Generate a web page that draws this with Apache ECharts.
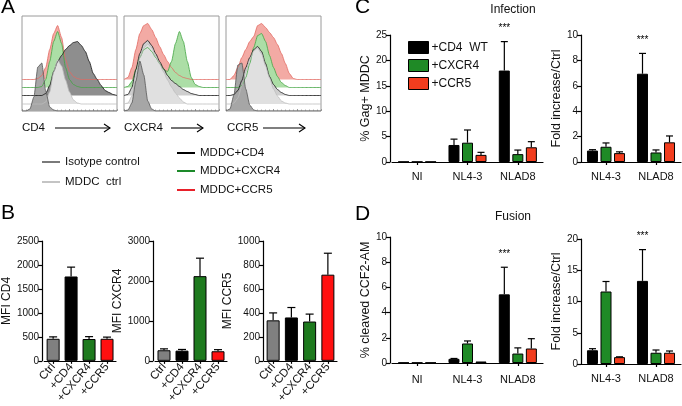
<!DOCTYPE html>
<html><head><meta charset="utf-8">
<script src="https://cdn.jsdelivr.net/npm/echarts@6/dist/echarts.min.js"></script>
<style>html,body{margin:0;padding:0;background:#fff}#c{width:682px;height:406px}</style>
</head><body><div id="c"></div>
<script>
const FONT = '"Liberation Sans", Arial, Helvetica, sans-serif';

// ---------- Panel A : flow cytometry histograms (channel bins, relative counts) ----------
const histBins = [0,4,8,12,16,20,24,28,32,36,40,44,48,52,56,60,64,68,72,76,80,84,88,92,96];
// CD4 staining
const cd4Iso   = [0,0,2,14,44,48,20,4,1,0,0,0,0,0,0,0,0,0,0,0,0,0,0,0,0];
const cd4Ctrl  = [0,0,0,0,0,0,2,12,32,44,38,24,12,4,1,0,0,0,0,0,0,0,0,0,0];
const cd4Cd4   = [0,0,0,0,0,0,2,10,24,34,40,46,50,53,54,50,44,34,22,16,10,5,3,1,0];
const cd4Cxcr4 = [0,0,0,0,0,1,8,26,46,56,44,20,8,3,1,0,0,0,0,0,0,0,0,0,0];
const cd4Ccr5  = [0,0,0,0,1,4,12,30,46,54,42,20,8,3,1,0,0,0,0,0,0,0,0,0,0];
// CXCR4 staining
const cxIso    = [0,1,8,30,50,36,10,2,0,0,0,0,0,0,0,0,0,0,0,0,0,0,0,0,0];
const cxCtrl   = [0,1,8,28,46,56,60,56,48,40,32,24,17,11,6,2,0,0,0,0,0,0,0,0,0];
const cxCd4    = [0,1,8,26,42,52,55,50,42,34,27,20,15,12,9,6,4,2,1,0,0,0,0,0,0];
const cxCxcr4  = [0,1,6,18,30,38,40,36,30,24,18,16,26,44,56,46,26,10,3,1,0,0,0,0,0];
const cxCcr5   = [0,2,12,30,46,54,56,50,42,33,25,18,12,7,4,2,1,0,0,0,0,0,0,0,0];
// CCR5 staining
const ccIso    = [0,2,16,46,48,22,6,1,0,0,0,0,0,0,0,0,0,0,0,0,0,0,0,0,0];
const ccCtrl   = [0,0,1,6,18,32,44,53,56,50,38,26,15,8,3,1,0,0,0,0,0,0,0,0,0];
const ccCd4    = [0,0,1,5,15,28,38,46,49,44,32,19,11,6,3,1,0,0,0,0,0,0,0,0,0];
const ccCxcr4  = [0,0,0,0,2,10,24,40,52,54,46,32,20,11,5,2,0,0,0,0,0,0,0,0,0];
const ccCcr5   = [0,0,4,12,22,30,38,43,54,56,52,47,42,35,26,16,6,1,0,0,0,0,0,0,0];
const histMarkers = ['CD4','CXCR4','CCR5'];

// ---------- Panel B : MFI ----------
const bCats = ['Ctrl','+CD4','+CXCR4','+CCR5'];
const mfiCD4     = [460,1760,455,460];
const mfiCD4Err  = [500,1955,505,495];
const mfiCXCR4   = [265,255,2120,240];
const mfiCXCR4Err= [300,285,2570,280];
const mfiCCR5    = [338,362,328,719];
const mfiCCR5Err = [400,445,390,898];

// ---------- Panel C / D ----------
const cdCats3 = ['NI','NL4-3','NLAD8'];
const cdCats2 = ['NL4-3','NLAD8'];
const seriesNames = ['+CD4  WT','+CXCR4','+CCR5'];
// Infection, % Gag+ MDDC
const infCd4 = [0.05,3.35,18.0],   infCd4Err = [null,4.5,23.7];
const infCxcr4 = [0.05,3.8,1.55],  infCxcr4Err = [null,6.3,2.35];
const infCcr5 = [0.05,1.4,2.9],    infCcr5Err = [null,1.9,4.0];
const infSig = [null,null,'***'];
// Infection, fold increase
const infFoldCd4 = [0.9,6.95],     infFoldCd4Err = [0.97,8.55];
const infFoldCxcr4 = [1.2,0.75],   infFoldCxcr4Err = [1.5,0.95];
const infFoldCcr5 = [0.7,1.55],    infFoldCcr5Err = [0.8,2.05];
const infFoldSig = [null,'***'];
// Fusion, % cleaved CCF2-AM
const fusCd4 = [0.03,0.33,5.45],   fusCd4Err = [null,0.36,7.6];
const fusCxcr4 = [0.03,1.55,0.75], fusCxcr4Err = [null,1.75,1.2];
const fusCcr5 = [0.03,0.12,1.15],  fusCcr5Err = [null,null,1.93];
const fusSig = [null,null,'***'];
// Fusion, fold increase
const fusFoldCd4 = [2.2,13.3],     fusFoldCd4Err = [2.45,18.3];
const fusFoldCxcr4 = [11.6,1.8],   fusFoldCxcr4Err = [13.2,2.24];
const fusFoldCcr5 = [1.1,1.8],     fusFoldCcr5Err = [1.15,2.08];
const fusFoldSig = [null,'***'];

// ================= build =================
const grids = [], xAxes = [], yAxes = [], series = [];
const BLACK = '#000', GREEN = '#1f8a26', RED = '#f23d1e';

// ---- A ----
const aLeft = [22,124,226];
const aSets = [
  [cd4Iso,cd4Ctrl,cd4Cd4,cd4Cxcr4,cd4Ccr5],
  [cxIso,cxCtrl,cxCd4,cxCxcr4,cxCcr5],
  [ccIso,ccCtrl,ccCd4,ccCxcr4,ccCcr5]
];
function hist(gi, name, vals, base, line, fill){
  return {type:'line', name, xAxisIndex:gi, yAxisIndex:gi, silent:true, animation:false,
    data: histBins.map((b,i)=>[b, base+vals[i]]), symbol:'none', smooth:0.2, smoothMonotone:'x',
    lineStyle:{color:line,width:0.8}, areaStyle:{color:fill, opacity:1, origin:base}};
}
aSets.forEach((set,k)=>{
  const gi = grids.length;
  grids.push({left:aLeft[k], top:16, width:95, height:95, show:true, borderColor:'#9a9a9a', borderWidth:1, backgroundColor:'#fff'});
  xAxes.push({type:'value', gridIndex:gi, min:0, max:96, interval:24, axisLine:{show:false}, axisLabel:{show:false},
    splitLine:{show:false}, axisTick:{show:true, inside:true, length:2, lineStyle:{color:'#999'}},
    minorTick:{show:true, splitNumber:6, length:1.5, lineStyle:{color:'#aaa'}}});
  yAxes.push({type:'value', gridIndex:gi, min:0, max:95, show:false});
  const [iso,ctrl,cd4,cx,cc] = set;
  series.push(hist(gi,'MDDC+CCR5',cc,31.5,'#e26a62','#f3aaa4'));
  series.push(hist(gi,'MDDC+CXCR4',cx,23.5,'#43a443','#acdea6'));
  series.push(hist(gi,'MDDC+CD4',cd4,15.5,'#111', k===0?'#8e8e8e':'#cfcfcf'));
  series.push(hist(gi,'MDDC ctrl',ctrl,7,'#bdbdbd','#e0e0e0'));
  series.push(hist(gi,'Isotype control',iso,0,'#555','#a6a6a6'));
});

// ---- shared helpers for bar charts ----
function yAxis(gi, max, interval, name, nameGap, offset, fs, nfs){
  return {type:'value', gridIndex:gi, min:0, max, interval, offset,
    axisLine:{show:true, lineStyle:{color:'#000', width:1.2}},
    axisTick:{show:true, length:4, lineStyle:{color:'#000', width:1.2}},
    splitLine:{show:false},
    axisLabel:{fontSize:fs, color:'#111', fontFamily:FONT, margin:3, formatter:v=>String(v)},
    name, nameLocation:'middle', nameGap, nameTextStyle:{fontSize:nfs, fontFamily:FONT, color:'#111'}};
}
function xCat(gi, data, opts){
  return Object.assign({type:'category', gridIndex:gi, data,
    axisLine:{show:true, lineStyle:{color:'#000', width:1.2}},
    axisTick:{show:true, alignWithLabel:true, length:3, lineStyle:{color:'#000', width:1.2}},
    splitLine:{show:false}}, opts);
}
function errBars(gi, vals, errs, dx, cap){
  const data = [];
  vals.forEach((v,i)=>{ if(errs[i]!=null) data.push([i, v, errs[i]]); });
  return {type:'custom', xAxisIndex:gi, yAxisIndex:gi, data, silent:true, animation:false, z:3,
    renderItem(params, api){
      const p0 = api.coord([api.value(0), api.value(1)]);
      const p1 = api.coord([api.value(0), api.value(2)]);
      const x = p0[0]+dx;
      return {type:'group', children:[
        {type:'line', shape:{x1:x,y1:p0[1],x2:x,y2:p1[1]}, style:{stroke:'#000', lineWidth:1.2}},
        {type:'line', shape:{x1:x-cap/2,y1:p1[1],x2:x+cap/2,y2:p1[1]}, style:{stroke:'#000', lineWidth:1.2}}
      ]};
    }};
}
function stars(gi, errs, sig, dx){
  const data = [];
  sig.forEach((s,i)=>{ if(s) data.push([i, errs[i], s]); });
  return {type:'custom', xAxisIndex:gi, yAxisIndex:gi, data, silent:true, animation:false, z:4,
    renderItem(params, api){
      const p = api.coord([api.value(0), api.value(1)]);
      return {type:'text', x:p[0]+dx, y:p[1]-13,
        style:{text:sig[api.value(0)], fill:'#000', font:'10px '+FONT, textAlign:'center', textVerticalAlign:'middle'}};
    }};
}

// ---- B ----
const bColors = ['#808080','#000000','#1e7a1e','#ff1010'];
const bDefs = [
  {left:44, width:72, vals:mfiCD4, errs:mfiCD4Err, max:2500, iv:500, name:'MFI CD4', gap:24, off:2},
  {left:155, width:72, vals:mfiCXCR4, errs:mfiCXCR4Err, max:3000, iv:1000, name:'MFI CXCR4', gap:24, off:2},
  {left:264, width:73, vals:mfiCCR5, errs:mfiCCR5Err, max:1000, iv:200, name:'MFI CCR5', gap:21, off:1}
];
bDefs.forEach(d=>{
  const gi = grids.length;
  grids.push({left:d.left, top:241, width:d.width, height:122});
  xAxes.push(xCat(gi, bCats, {axisLabel:{rotate:50, fontSize:11.5, color:'#111', fontFamily:FONT, margin:4, interval:0}}));
  yAxes.push(yAxis(gi, d.max, d.iv, d.name, d.gap, d.off, 10, 12));
  series.push({type:'bar', xAxisIndex:gi, yAxisIndex:gi, barWidth:13, animation:false,
    data: d.vals.map((v,i)=>({value:v, itemStyle:{color:bColors[i], borderColor:'#000', borderWidth:1}}))});
  series.push(errBars(gi, d.vals, d.errs, 0, 8));
});

// ---- C / D ----
const cdColors = [BLACK, GREEN, RED];
const cdDefs = [
  {left:392, top:35, width:151, height:127, cats:cdCats3, max:25, iv:5, name:'% Gag+ MDDC', gap:12, off:2, lm:9,
    vals:[infCd4,infCxcr4,infCcr5], errs:[infCd4Err,infCxcr4Err,infCcr5Err], sig:infSig},
  {left:581, top:35, width:100, height:127, cats:cdCats2, max:10, iv:2, name:'Fold increase/Ctrl', gap:14, off:0, lm:9,
    vals:[infFoldCd4,infFoldCxcr4,infFoldCcr5], errs:[infFoldCd4Err,infFoldCxcr4Err,infFoldCcr5Err], sig:infFoldSig},
  {left:392, top:237, width:151, height:126, cats:cdCats3, max:10, iv:2, name:'% cleaved CCF2-AM', gap:12, off:2, lm:11,
    vals:[fusCd4,fusCxcr4,fusCcr5], errs:[fusCd4Err,fusCxcr4Err,fusCcr5Err], sig:fusSig},
  {left:581, top:239, width:100, height:125, cats:cdCats2, max:20, iv:5, name:'Fold increase/Ctrl', gap:13, off:0, lm:9,
    vals:[fusFoldCd4,fusFoldCxcr4,fusFoldCcr5], errs:[fusFoldCd4Err,fusFoldCxcr4Err,fusFoldCcr5Err], sig:fusFoldSig}
];
const step = 13.5;
cdDefs.forEach(d=>{
  const gi = grids.length;
  grids.push({left:d.left, top:d.top, width:d.width, height:d.height});
  xAxes.push(xCat(gi, d.cats, {axisLabel:{fontSize:11, color:'#111', fontFamily:FONT, margin:d.lm}}));
  yAxes.push(yAxis(gi, d.max, d.iv, d.name, d.gap, d.off, 10, 12.5));
  d.vals.forEach((vals,k)=>{
    series.push({type:'bar', name:seriesNames[k], xAxisIndex:gi, yAxisIndex:gi, barWidth:11, barGap:'23%', animation:false,
      itemStyle:{color:cdColors[k], borderColor:'#000', borderWidth:1}, data:vals});
  });
  d.errs.forEach((errs,k)=>{ series.push(errBars(gi, d.vals[k], errs, (k-1)*step, 7)); });
  series.push(stars(gi, d.errs[0], d.sig, -step));
});

// ---- graphic: panel letters, A legend, marker arrows, titles ----
const graphic = [];
function txt(x,y,t,size,opts){
  graphic.push({type:'text', x, y, silent:true, style:Object.assign({text:t, fill:'#000', font:size+'px '+FONT, textVerticalAlign:'top'}, opts||{})});
}
txt(1,-3.5,'A',21); txt(1,203,'B',21); txt(355,-3.5,'C',21); txt(355,204,'D',21);
txt(513,3.5,'Infection',12,{textAlign:'center', fill:'#111'});
txt(513,210.5,'Fusion',12,{textAlign:'center', fill:'#111'});
// marker labels + arrows
const arrowDefs = [[22,55,110],[124,171,203],[227,263,305]];
histMarkers.forEach((m,i)=>{
  const [tx,a0,a1] = arrowDefs[i];
  txt(tx,122,m,11.5,{fill:'#111'});
  graphic.push({type:'line', silent:true, shape:{x1:a0,y1:128,x2:a1,y2:128}, style:{stroke:'#000', lineWidth:1.1}});
  graphic.push({type:'polyline', silent:true, shape:{points:[[a1-6,124],[a1,128],[a1-6,132]]}, style:{stroke:'#000', lineWidth:1.1, fill:null}});
});
// A legend
const legA = [
  [42,60,162,'#7a7a7a',65,'Isotype control'],
  [42,60,182,'#c4c4c4',65,'MDDC  ctrl'],
  [177,195,153,'#000',200,'MDDC+CD4'],
  [177,195,171,'#1d8a2a',200,'MDDC+CXCR4'],
  [177,195,190,'#e8202a',200,'MDDC+CCR5']
];
legA.forEach(([x1,x2,y,c,tx,t])=>{
  graphic.push({type:'line', silent:true, shape:{x1,y1:y,x2,y2:y}, style:{stroke:c, lineWidth:2}});
  graphic.push({type:'text', silent:true, x:tx, y, style:{text:t, fill:'#111', font:'11.5px '+FONT, textVerticalAlign:'middle'}});
});

const chart = echarts.init(document.getElementById('c'), null, {renderer:'canvas'});
chart.setOption({
  animation:false,
  backgroundColor:'#fff',
  textStyle:{fontFamily:FONT},
  grid: grids, xAxis: xAxes, yAxis: yAxes, series,
  legend:{data:seriesNames, orient:'vertical', left:403, top:36, itemWidth:20, itemHeight:12, itemGap:5,
    icon:'rect', selectedMode:false, itemStyle:{borderColor:'#000', borderWidth:1},
    textStyle:{fontSize:12, color:'#111', fontFamily:FONT, padding:[0,0,0,-2]}},
  graphic
});
</script></body></html>
